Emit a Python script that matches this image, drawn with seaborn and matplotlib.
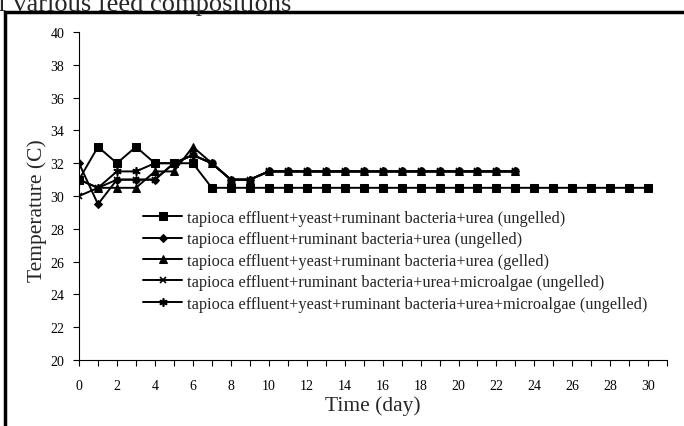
import matplotlib
matplotlib.use("Agg")
import matplotlib.pyplot as plt
from matplotlib.patches import Rectangle
from matplotlib.ticker import MultipleLocator
import seaborn as sns
import pandas as pd

days_long = [0, 1, 2, 3, 4, 5, 6, 7, 8, 9, 10, 11, 12, 13, 14, 15, 16, 17, 18, 19, 20,
             21, 22, 23, 24, 25, 26, 27, 28, 29, 30]
days_short = [0, 1, 2, 3, 4, 5, 6, 7, 8, 9, 10, 11, 12, 13, 14, 15, 16, 17, 18, 19, 20,
              21, 22, 23]

s1_yeast_ungelled = [31, 33, 32, 33, 32, 32, 32, 30.5, 30.5, 30.5, 30.5, 30.5, 30.5, 30.5,
                     30.5, 30.5, 30.5, 30.5, 30.5, 30.5, 30.5, 30.5, 30.5, 30.5, 30.5,
                     30.5, 30.5, 30.5, 30.5, 30.5, 30.5]
s2_rumen_ungelled = [32, 29.5, 31, 31, 31, 32, 32.5, 32, 31, 31, 31.5, 31.5, 31.5, 31.5,
                     31.5, 31.5, 31.5, 31.5, 31.5, 31.5, 31.5, 31.5, 31.5, 31.5]
s3_yeast_gelled = [31, 30.5, 30.5, 30.5, 31.5, 31.5, 33, 32, 31, 31, 31.5, 31.5, 31.5, 31.5,
                   31.5, 31.5, 31.5, 31.5, 31.5, 31.5, 31.5, 31.5, 31.5, 31.5]
s4_rumen_algae = [30, 30.5, 31, 31, 31, 32, 32.5, 32, 31, 31, 31.5, 31.5, 31.5, 31.5,
                  31.5, 31.5, 31.5, 31.5, 31.5, 31.5, 31.5, 31.5, 31.5, 31.5]
s5_yeast_algae = [31, 30.5, 31.5, 31.5, 32, 32, 32.5, 32, 31, 31, 31.5, 31.5, 31.5, 31.5,
                  31.5, 31.5, 31.5, 31.5, 31.5, 31.5, 31.5, 31.5, 31.5, 31.5]

labels = [
    "tapioca effluent+yeast+ruminant bacteria+urea (ungelled)",
    "tapioca effluent+ruminant bacteria+urea (ungelled)",
    "tapioca effluent+yeast+ruminant bacteria+urea (gelled)",
    "tapioca effluent+ruminant bacteria+urea+microalgae (ungelled)",
    "tapioca effluent+yeast+ruminant bacteria+urea+microalgae (ungelled)",
]
x_ticks = [0, 2, 4, 6, 8, 10, 12, 14, 16, 18, 20, 22, 24, 26, 28, 30]
y_ticks = [20, 22, 24, 26, 28, 30, 32, 34, 36, 38, 40]

sns.set_style("ticks")
plt.rcParams["font.family"] = ["Liberation Serif", "DejaVu Serif"]

fig = plt.figure(figsize=(6.84, 4.27), dpi=100)
ax = fig.add_axes([0.1155, 0.1546, 0.86, 0.768])

series = [
    (days_long, s1_yeast_ungelled, dict(marker="s", markersize=6)),
    (days_short, s2_rumen_ungelled, dict(marker="D", markersize=4)),
    (days_short, s3_yeast_gelled, dict(marker="^", markersize=5.5)),
    (days_short, s4_rumen_algae, dict(marker="x", markersize=5, markeredgewidth=1.2)),
    (days_short, s5_yeast_algae, dict(marker=(6, 2, 0), markersize=6, markeredgewidth=1.2)),
]
for (xd, yd, mk), lab in zip(series, labels):
    df = pd.DataFrame({"day": xd, "temp": yd})
    sns.lineplot(data=df, x="day", y="temp", ax=ax, color="black", linewidth=1.4,
                 markeredgecolor="black", markerfacecolor="black", label=lab, **mk)

handles, labs = ax.get_legend_handles_labels()
ax.get_legend().remove()
fig.legend(handles, labs, loc="upper left", bbox_to_anchor=(0.209, 0.506),
           frameon=False, borderpad=0, borderaxespad=0, fontsize=11.8,
           handlelength=2.4, handletextpad=0.3, labelspacing=0.33)

ax.set_xlim(0, 31)
ax.set_ylim(20, 40)
ax.set_xticks(x_ticks)
ax.xaxis.set_minor_locator(MultipleLocator(1))
ax.set_yticks(y_ticks)
ax.tick_params(axis="both", which="both", direction="out", length=4, width=0.8,
               labelsize=10, colors="black")
ax.tick_params(axis="y", pad=6.5)
ax.tick_params(axis="x", pad=10)
for side in ["top", "right"]:
    ax.spines[side].set_visible(False)
for side in ["left", "bottom"]:
    ax.spines[side].set_linewidth(0.8)
    ax.spines[side].set_color("black")

ax.set_xlabel("Time (day)", fontsize=15.5, labelpad=2)
ax.set_ylabel("Temperature (C)", fontsize=15.5)
ax.yaxis.set_label_coords(-0.054, 0.46)

# figure frame (cropped at right/bottom) and cut-off caption
fig.patches.append(Rectangle((5 / 684, -0.1), 1.2, 1 - 13 / 427 + 0.1,
                             transform=fig.transFigure, fill=False,
                             edgecolor="black", linewidth=2.5))
fig.text(-0.003, 1 - 11 / 427, "f various feed compositions", fontsize=19,
         ha="left", va="baseline")

fig.savefig("out.png", dpi=100)
